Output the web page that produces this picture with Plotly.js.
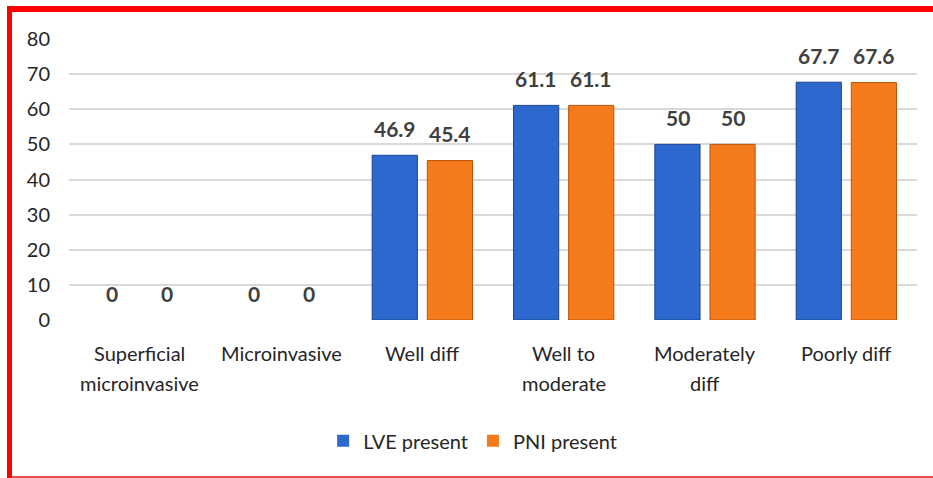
<!DOCTYPE html>
<html>
<head>
<meta charset="utf-8">
<script src="https://cdn.plot.ly/plotly-3.0.1.min.js"></script>
<style>
html,body{margin:0;padding:0;background:#fff;}
#wrap{position:relative;width:933px;height:478px;overflow:hidden;}
#chart{position:absolute;left:0;top:0;width:933px;height:478px;}
.rl{position:absolute;background:#ff0000;}
</style>
</head>
<body>
<div id="wrap">
<div id="chart"></div>
<div class="rl" style="left:7px;top:6px;width:5px;height:472px;"></div>
<div class="rl" style="left:7px;top:6px;width:926px;height:6px;"></div>
<div class="rl" style="left:12px;top:476px;width:921px;height:2px;background:#e85050;"></div>
</div>
<script>
const categories = ["Superficial<br>microinvasive", "Microinvasive", "Well diff", "Well to<br>moderate", "Moderately<br>diff", "Poorly diff"];
const lveValues = [0, 0, 46.9, 61.1, 50, 67.7];
const pniValues = [0, 0, 45.4, 61.1, 50, 67.6];
const seriesNames = ["LVE present", "PNI present"];
const yTicks = [0, 10, 20, 30, 40, 50, 60, 70, 80];

const FONT = "Lato, 'Open Sans', sans-serif";
const labelFont = {family: FONT, size: 21, color: "#404040", weight: "bold"};
const tickFont = {family: FONT, size: 20, color: "#262626"};

function barTrace(name, vals, fill, edge) {
  return {type: "bar", name: name, x: categories, y: vals,
    hoverinfo: "none",
    marker: {color: fill, line: {color: edge, width: vals.map(v => v > 0 ? 1 : 0)}}};
}
const traces = [
  barTrace(seriesNames[0], lveValues, "#2d68cf", "#1d4590"),
  barTrace(seriesNames[1], pniValues, "#f47a1c", "#b8560f")
];

const annotations = [];
[lveValues, pniValues].forEach((vals, s) => {
  vals.forEach((v, i) => {
    annotations.push({x: categories[i], y: v, xref: "x", yref: "y",
      text: String(v), showarrow: false, font: labelFont,
      xshift: s === 0 ? -27.5 : 27.5, yshift: 27, yanchor: "middle", xanchor: "center"});
  });
});
categories.forEach((c) => {
  c.split("<br>").forEach((line, j) => {
    annotations.push({x: c, y: 0, xref: "x", yref: "y", text: line, showarrow: false,
      font: tickFont, yanchor: "middle", xanchor: "center", yshift: -33 - 30 * j});
  });
});

const layout = {
  width: 933, height: 478,
  margin: {l: 69, r: 16, t: 39, b: 158},
  paper_bgcolor: "#ffffff", plot_bgcolor: "#ffffff",
  barmode: "group", bargap: 0.22, bargroupgap: 0.18,
  font: {family: FONT, size: 20, color: "#262626"},
  showlegend: true,
  legend: {orientation: "h", x: 0.476, xanchor: "center", y: -0.43, yanchor: "middle",
           font: {family: FONT, size: 20, color: "#262626"}, itemwidth: 30, traceorder: "normal"},
  annotations: annotations,
  xaxis: {type: "category", showgrid: false, zeroline: false, showline: false,
          showticklabels: false, ticks: "", automargin: false},
  yaxis: {range: [0, 80], tickvals: yTicks, ticktext: yTicks.map(String), showgrid: true,
          gridcolor: "#d9d9d9", gridwidth: 2, zeroline: false, showline: false,
          tickfont: tickFont, ticks: "", ticklabelstandoff: 18, automargin: false}
};

Plotly.newPlot("chart", traces, layout, {displayModeBar: false, staticPlot: true});
</script>
</body>
</html>
